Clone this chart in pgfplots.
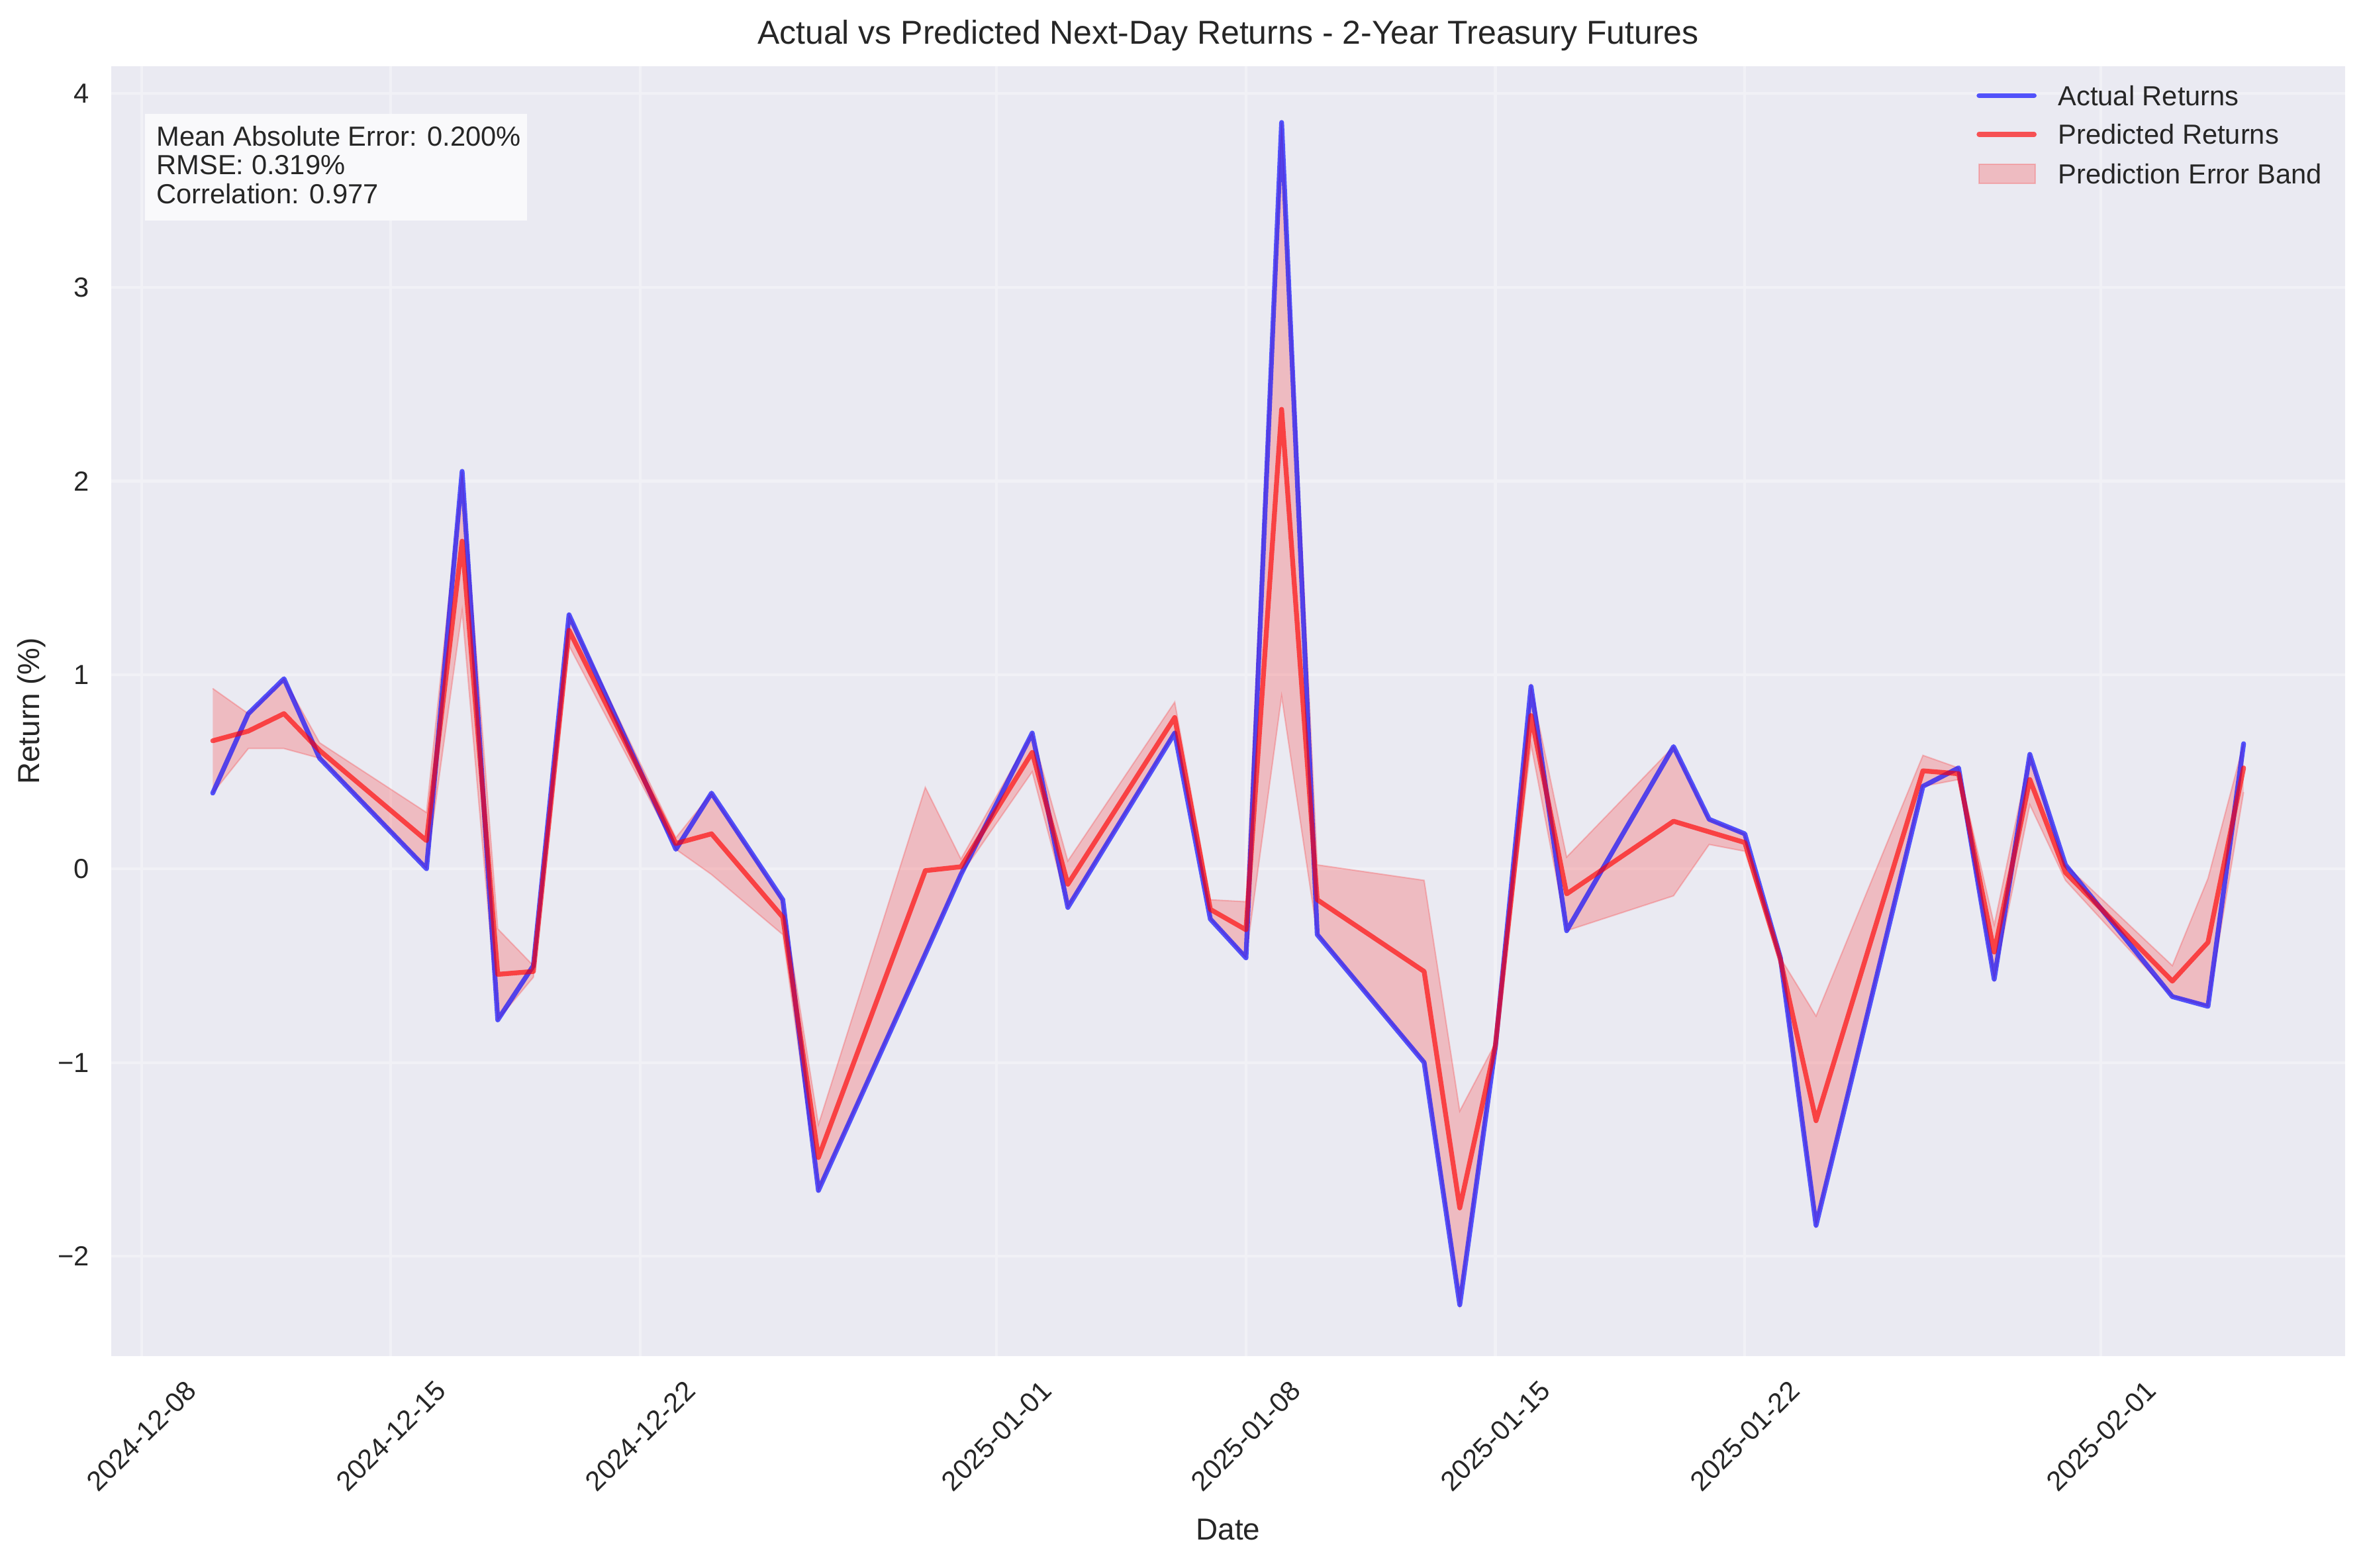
\documentclass[border=0pt]{standalone}
\usepackage{fontspec}
\setmainfont{Liberation Sans}
\usepackage{pgfplots}
\pgfplotsset{compat=1.18}
\usepgfplotslibrary{fillbetween}
\usepackage{pgfplotstable}

\definecolor{bgc}{RGB}{234,234,242}
\definecolor{gridc}{RGB}{241,241,246}
\definecolor{txt}{RGB}{38,38,38}
\definecolor{boxc}{RGB}{249,249,251}

\pgfplotsset{
  lineleg/.style={legend image code/.code={\draw[##1] (0pt,0pt) -- (20pt,0pt);}},
  arealeg/.style={legend image code/.code={\draw[##1] (0pt,-3.6pt) rectangle (20.4pt,3.5pt);}},
}

% d = days since 2024-12-08, a = actual, p = predicted, lo/hi = error band
\pgfplotstableread{
d a p lo hi
2 0.39 0.66 0.39 0.93
3 0.80 0.71 0.62 0.80
4 0.98 0.80 0.62 0.98
5 0.57 0.61 0.57 0.65
8 0.00 0.145 0.00 0.29
9 2.05 1.69 1.33 2.05
10 -0.78 -0.545 -0.78 -0.31
11 -0.50 -0.53 -0.56 -0.50
12 1.31 1.23 1.15 1.31
15 0.10 0.13 0.10 0.16
16 0.39 0.18 -0.03 0.39
18 -0.16 -0.25 -0.34 -0.16
19 -1.66 -1.49 -1.66 -1.32
22 -0.44 -0.01 -0.44 0.42
23 -0.03 0.01 -0.03 0.05
25 0.70 0.60 0.50 0.70
26 -0.20 -0.08 -0.20 0.04
29 0.70 0.78 0.70 0.86
30 -0.26 -0.21 -0.26 -0.16
31 -0.46 -0.315 -0.46 -0.17
32 3.85 2.37 0.89 3.85
33 -0.34 -0.16 -0.34 0.02
36 -1.00 -0.53 -1.00 -0.06
37 -2.25 -1.75 -2.25 -1.25
38 -0.92 -0.91 -0.92 -0.90
39 0.94 0.79 0.64 0.94
40 -0.32 -0.13 -0.32 0.06
43 0.63 0.245 -0.14 0.63
44 0.255 0.19 0.125 0.255
45 0.18 0.135 0.09 0.18
46 -0.46 -0.47 -0.48 -0.46
47 -1.84 -1.30 -1.84 -0.76
50 0.425 0.505 0.425 0.585
51 0.52 0.49 0.46 0.52
52 -0.57 -0.43 -0.57 -0.29
53 0.59 0.46 0.33 0.59
54 0.02 -0.02 -0.06 0.02
57 -0.66 -0.58 -0.66 -0.50
58 -0.71 -0.38 -0.71 -0.05
59 0.645 0.52 0.395 0.645
}\data

\begin{document}
\begin{tikzpicture}
\begin{axis}[
  scale only axis,
  width=809.8pt, height=467.5pt,
  xmin=-0.85, xmax=61.85, ymin=-2.514, ymax=4.14,
  axis background/.style={fill=bgc},
  axis line style={draw=none},
  major tick length=0pt,
  grid=major,
  major grid style={gridc, line width=1pt},
  xtick={0,7,14,24,31,38,45,55},
  xticklabels={2024-12-08,2024-12-15,2024-12-22,2025-01-01,2025-01-08,2025-01-15,2025-01-22,2025-02-01},
  ytick={-2,-1,0,1,2,3,4},
  yticklabels={−2,−1,0,1,2,3,4},
  tick label style={font=\fontsize{10}{12}\selectfont, text=txt},
  xticklabel style={inner sep=0pt, yshift=-29pt, rotate=45, anchor=center},
  yticklabel style={inner sep=0pt, anchor=east, xshift=-7.7pt},
  xlabel={Date}, ylabel={Return (\%)},
  label style={font=\fontsize{11}{13}\selectfont, text=txt},
  xlabel style={at={(axis description cs:0.5,0)}, anchor=center, yshift=-63pt},
  ylabel style={at={(axis description cs:-0.0356,0.5)}, anchor=center},
  title={Actual vs Predicted Next-Day Returns - 2-Year Treasury Futures},
  title style={font=\fontsize{12}{14}\selectfont, text=txt, at={(axis description cs:0.5,1)}, anchor=base, yshift=2pt},
  legend style={draw=none, fill=none, font=\fontsize{10}{12}\selectfont, text=txt,
    at={(rel axis cs:1,1)}, anchor=north west, xshift=-133.8pt, yshift=-6.8pt,
    inner sep=0pt, row sep=6.9pt, column sep=7.8pt,
    nodes={inner sep=0pt, text height=7.2pt, text depth=0pt}},
  legend cell align=left,
]
\addplot[name path=U, draw=red, draw opacity=0.2, line width=0.5pt, forget plot] table[x=d,y=hi]{\data};
\addplot[name path=L, draw=red, draw opacity=0.2, line width=0.5pt, forget plot] table[x=d,y=lo]{\data};
\addplot[fill=red, fill opacity=0.2, draw=none, forget plot] fill between[of=U and L];

\addplot[color=blue, opacity=0.65, line width=1.75pt, line join=round, line cap=round, lineleg] table[x=d,y=a]{\data};
\addlegendentry{Actual Returns}
\addplot[color=red, opacity=0.65, line width=1.75pt, line join=round, line cap=round, lineleg] table[x=d,y=p]{\data};
\addlegendentry{Predicted Returns}
\addlegendimage{fill=red, fill opacity=0.2, draw=red, draw opacity=0.2, line width=0.5pt, arealeg}
\addlegendentry{Prediction Error Band}

\fill[boxc] (axis description cs:0.0151,0.8805) rectangle (axis description cs:0.1861,0.9632);
\node[anchor=base west, inner sep=0pt, font=\fontsize{10}{12}\selectfont, text=txt] at (axis description cs:0.0201,0.9380) {Mean Absolute Error: 0.200\%};
\node[anchor=base west, inner sep=0pt, font=\fontsize{10}{12}\selectfont, text=txt] at (axis description cs:0.0201,0.9162) {RMSE: 0.319\%};
\node[anchor=base west, inner sep=0pt, font=\fontsize{10}{12}\selectfont, text=txt] at (axis description cs:0.0201,0.8934) {Correlation: 0.977};
\end{axis}
\pgfresetboundingbox
\path[use as bounding box] (-40.3pt,-76.6pt) rectangle (817pt,491.5pt);
\end{tikzpicture}
\end{document}
